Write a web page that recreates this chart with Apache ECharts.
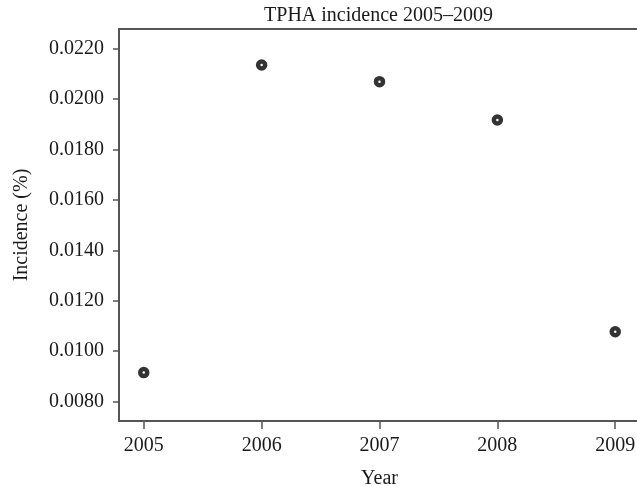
<!DOCTYPE html>
<html>
<head>
<meta charset="utf-8">
<script src="https://cdn.jsdelivr.net/npm/echarts@6/dist/echarts.min.js"></script>
<style>
  html, body { margin: 0; padding: 0; background: #fff; }
  #chart { width: 637px; height: 486px; }
</style>
</head>
<body>
<div id="chart"></div>
<script>
// data
var years = [2005, 2006, 2007, 2008, 2009];
var incidence = [0.00915, 0.02135, 0.02069, 0.01917, 0.01077];
var yTicks = [0.008, 0.010, 0.012, 0.014, 0.016, 0.018, 0.020, 0.022];

var font = "'Liberation Serif', 'DejaVu Serif', serif";
var ink = '#1a1a1a';
var axisGrey = '#555';

var points = years.map(function (y, i) { return [y, incidence[i]]; });

var myChart = echarts.init(document.getElementById('chart'));

var option = {
    animation: false,
    backgroundColor: '#fff',
    title: {
        text: 'TPHA incidence 2005\u20132009',
        left: 373.5,
        textAlign: 'center',
        top: 1,
        textStyle: { fontFamily: font, fontSize: 20, fontWeight: 'normal', color: ink }
    },
    grid: {
        left: 119, top: 29, width: 521, height: 392,
        outerBoundsMode: 'none',
        containLabel: false,
        show: true, borderColor: axisGrey, borderWidth: 2, backgroundColor: 'transparent'
    },
    xAxis: {
        type: 'value',
        min: 2004.79,
        max: 2009.21,
        name: 'Year',
        nameLocation: 'middle',
        nameGap: 48,
        nameTextStyle: { fontFamily: font, fontSize: 20, color: ink },
        axisLine: { show: true, lineStyle: { color: axisGrey, width: 2 } },
        axisTick: { show: true, length: 8, customValues: years, lineStyle: { color: axisGrey, width: 1.5 } },
        axisLabel: {
            customValues: years, margin: 15,
            fontFamily: font, fontSize: 20, color: ink,
            formatter: function (v) { return String(v); }
        },
        splitLine: { show: false }
    },
    yAxis: {
        type: 'value',
        min: 0.00723,
        max: 0.02278,
        name: 'Incidence (%)',
        nameLocation: 'middle',
        nameGap: 87,
        nameTextStyle: { fontFamily: font, fontSize: 20, color: ink },
        axisLine: { show: true, lineStyle: { color: axisGrey, width: 2 } },
        axisTick: { show: true, length: 6, customValues: yTicks, lineStyle: { color: axisGrey, width: 1.5 } },
        axisLabel: {
            customValues: yTicks, margin: 15,
            fontFamily: font, fontSize: 20, color: ink,
            formatter: function (v) { return v.toFixed(4); }
        },
        splitLine: { show: false }
    },
    series: [{
        type: 'scatter',
        data: points,
        symbol: 'circle',
        symbolSize: 7,
        itemStyle: { color: '#fff', borderColor: '#000', borderWidth: 4.5 }
    }]
};

myChart.setOption(option);
</script>
</body>
</html>
